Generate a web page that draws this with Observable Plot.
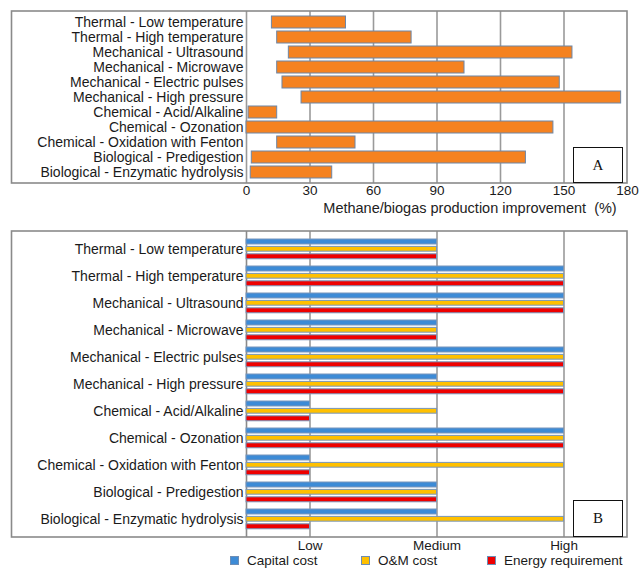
<!DOCTYPE html>
<html>
<head>
<meta charset="utf-8">
<script src="https://cdn.jsdelivr.net/npm/d3@7"></script>
<script src="https://cdn.jsdelivr.net/npm/@observablehq/plot@0.6"></script>
<style>
  html, body { margin: 0; padding: 0; background: #fff; }
  #root { position: relative; width: 639px; height: 569px; background: #fff; font-family: "Liberation Sans", Arial, sans-serif; overflow: hidden; }
  #root svg { position: absolute; left: 0; overflow: visible; }
  .tag { position: absolute; border: 1.3px solid #111; background: #fff; font-family: "Liberation Serif", "DejaVu Serif", serif; font-size: 15px; color: #111; display: flex; align-items: center; justify-content: center; box-sizing: border-box; }
  .legend { position: absolute; font-size: 13.5px; line-height: 15px; color: #1a1a1a; white-space: nowrap; display: flex; align-items: center; }
  .legend i { display: inline-block; width: 7px; height: 7px; border: 1px solid #6d8db5; margin-right: 8px; }
  .ylab text { font-size: 14px; }
</style>
</head>
<body>
<div id="root"></div>
<script>
// ---------- data ----------
const methods = [
  "Thermal - Low temperature",
  "Thermal - High temperature",
  "Mechanical - Ultrasound",
  "Mechanical - Microwave",
  "Mechanical - Electric pulses",
  "Mechanical - High pressure",
  "Chemical - Acid/Alkaline",
  "Chemical - Ozonation",
  "Chemical - Oxidation with Fenton",
  "Biological - Predigestion",
  "Biological - Enzymatic hydrolysis"
];
const improvementMin = [12, 14.5, 20, 14.5, 17, 26, 1, 0, 14.5, 2.5, 2];
const improvementMax = [47, 78, 154, 103, 148, 177, 14.5, 145, 51.5, 132, 40.5];
const improvementTicks = [0, 30, 60, 90, 120, 150, 180];

const levelLabels = ["Low", "Medium", "High"];
const levelTicks = [30, 90, 150];
const capitalCost = ["Medium", "High", "High", "Medium", "High", "Medium", "Low", "High", "Low", "Medium", "Medium"];
const omCost      = ["Medium", "High", "High", "Medium", "High", "High", "Medium", "High", "High", "Medium", "High"];
const energyReq   = ["Medium", "High", "High", "Medium", "High", "High", "Low", "High", "Low", "Medium", "Low"];
const seriesNames  = ["Capital cost", "O&M cost", "Energy requirement"];
const seriesColors = ["#3d8bd6", "#ffc000", "#ee0000"];
const barColorA = "#f58220";

// ---------- build ----------
const root = document.getElementById("root");
const font = {fontFamily: "'Liberation Sans', Arial, sans-serif", fontSize: "13.5px", color: "#1a1a1a", background: "transparent"};

const tableA = methods.map((m, i) => ({method: m, start: improvementMin[i], end: improvementMax[i]}));

const plotA = Plot.plot({
  width: 639, height: 220,
  marginLeft: 246, marginRight: 12, marginTop: 11, marginBottom: 37,
  style: font,
  x: {domain: [0, 180], ticks: improvementTicks, tickSize: 0, tickPadding: 2, label: null},
  y: {domain: methods, padding: 0.22, tickSize: 0, tickPadding: 3, label: null},
  marks: [
    Plot.ruleX(improvementTicks.slice(0, -1), {stroke: "#9a9a9a", strokeWidth: 1.6}),
    Plot.barX(tableA, {y: "method", x1: "start", x2: "end", fill: barColorA, stroke: "#6d86a6", strokeWidth: 1}),
    Plot.text(["Methane/biogas production improvement  (%)"], {frameAnchor: "bottom", dx: 33, dy: 29, fontSize: 14.5, fill: "#222"})
  ]
});
plotA.style.top = "0px";
root.appendChild(plotA);
d3.select(plotA).append("rect")
  .attr("x", 11.5).attr("y", 11).attr("width", 615.5).attr("height", 172)
  .attr("fill", "none").attr("stroke", "#8a8a8a").attr("stroke-width", 1.6);

// chart B
const seriesData = [capitalCost, omCost, energyReq];
const lvl = v => levelTicks[levelLabels.indexOf(v)];
const band = 306 / methods.length;
const insets = [[3, band - 8.8], [10.4, band - 16], [17.8, band - 23.6]];

const marksB = [
  Plot.ruleX(levelTicks, {stroke: "#9a9a9a", strokeWidth: 1.6}),
  Plot.ruleX([0], {stroke: "#8a8a8a", strokeWidth: 1.6})
];
seriesData.forEach((arr, s) => {
  const rows = methods.map((m, i) => ({method: m, value: lvl(arr[i])}));
  marksB.push(Plot.barX(rows, {
    y: "method", x1: 0, x2: "value",
    fill: seriesColors[s], stroke: "#7896bb", strokeWidth: 1,
    insetTop: insets[s][0], insetBottom: insets[s][1]
  }));
});

const plotB = Plot.plot({
  width: 639, height: 349,
  marginLeft: 246, marginRight: 12, marginTop: 11, marginBottom: 32,
  style: font,
  x: {domain: [0, 180], ticks: levelTicks, tickFormat: v => levelLabels[levelTicks.indexOf(v)], tickSize: 0, tickPadding: 3, label: null},
  y: {domain: methods, padding: 0, tickSize: 0, tickPadding: 3, label: null},
  marks: marksB
});
plotB.style.top = "220px";
root.appendChild(plotB);
d3.select(plotB).append("rect")
  .attr("x", 11.5).attr("y", 11).attr("width", 615.5).attr("height", 306)
  .attr("fill", "none").attr("stroke", "#8a8a8a").attr("stroke-width", 1.6);

// y-axis labels slightly larger, like the reference
[plotA, plotB].forEach(p => {
  d3.select(p).selectAll("g[aria-label='y-axis tick label']").classed("ylab", true);
});

// A / B tags
function tag(txt, left, top, w, h) {
  const d = document.createElement("div");
  d.className = "tag";
  d.textContent = txt;
  Object.assign(d.style, {left: left + "px", top: top + "px", width: w + "px", height: h + "px"});
  root.appendChild(d);
}
tag("A", 573, 147, 50, 36);
tag("B", 573, 500, 50, 37);

// legend
const legendX = [230, 361, 487];
seriesNames.forEach((name, s) => {
  const d = document.createElement("div");
  d.className = "legend";
  d.style.left = legendX[s] + "px";
  d.style.top = "553px";
  const sw = document.createElement("i");
  sw.style.background = seriesColors[s];
  d.appendChild(sw);
  d.appendChild(document.createTextNode(name));
  root.appendChild(d);
});
</script>
</body>
</html>
